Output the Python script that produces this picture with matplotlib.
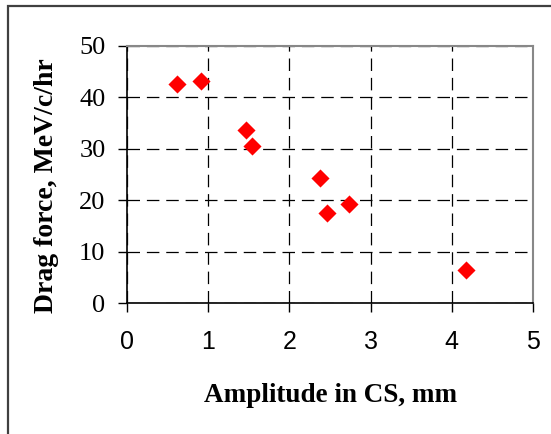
import matplotlib.pyplot as plt
from matplotlib.patches import Rectangle

# Data
amplitude = [0.61, 0.91, 1.47, 1.54, 2.38, 2.46, 2.73, 4.17]
dragForce = [42.7, 43.2, 33.7, 30.5, 24.3, 17.6, 19.3, 6.4]
xTicks = [0, 1, 2, 3, 4, 5]
yTicks = [0, 10, 20, 30, 40, 50]

serif = 'Liberation Serif'
sans = 'Liberation Sans'

fig = plt.figure(figsize=(5.51, 4.34), dpi=100)
# Outer chart frame (runs off the right and bottom edges)
fig.patches.append(Rectangle((8 / 551, -0.05), 1.2, 1 - 6 / 434 + 0.05,
                             transform=fig.transFigure, fill=False,
                             edgecolor='#404040', linewidth=1.6))

ax = fig.add_axes([127 / 551, 1 - 303 / 434, (533 - 127) / 551, (303 - 46) / 434])
ax.scatter(amplitude, dragForce, marker='D', s=85, color='#ff0000', zorder=3, linewidths=0)

ax.set_xlim(0, 5)
ax.set_ylim(0, 50)
ax.set_xticks(xTicks)
ax.set_yticks(yTicks)
ax.set_xticklabels([str(t) for t in xTicks], fontfamily=sans, fontsize=18)
ax.set_yticklabels([str(t) for t in yTicks], fontfamily=serif, fontsize=19)
ax.tick_params(axis='both', direction='out', length=6.5, width=1, color='black')
ax.tick_params(axis='x', pad=13)
ax.tick_params(axis='y', pad=9)

ax.grid(True, color='black', linestyle=(0, (10, 5.5)), linewidth=0.9)
ax.set_axisbelow(True)

for side in ['left', 'bottom']:
    ax.spines[side].set_color('black')
    ax.spines[side].set_linewidth(1.2)
for side in ['top', 'right']:
    ax.spines[side].set_color('#888888')
    ax.spines[side].set_linewidth(1.5)

ax.set_xlabel('Amplitude in CS, mm', fontfamily=serif, fontweight='bold', fontsize=19.5, va='center')
ax.xaxis.set_label_coords(0.502, (303 - 396) / 257)
ax.set_ylabel('Drag force, MeV/c/hr', fontfamily=serif, fontweight='bold', fontsize=20, va='center')
ax.yaxis.set_label_coords((47 - 127) / 406, (303 - 186) / 257)

fig.savefig('out.png', dpi=100)
